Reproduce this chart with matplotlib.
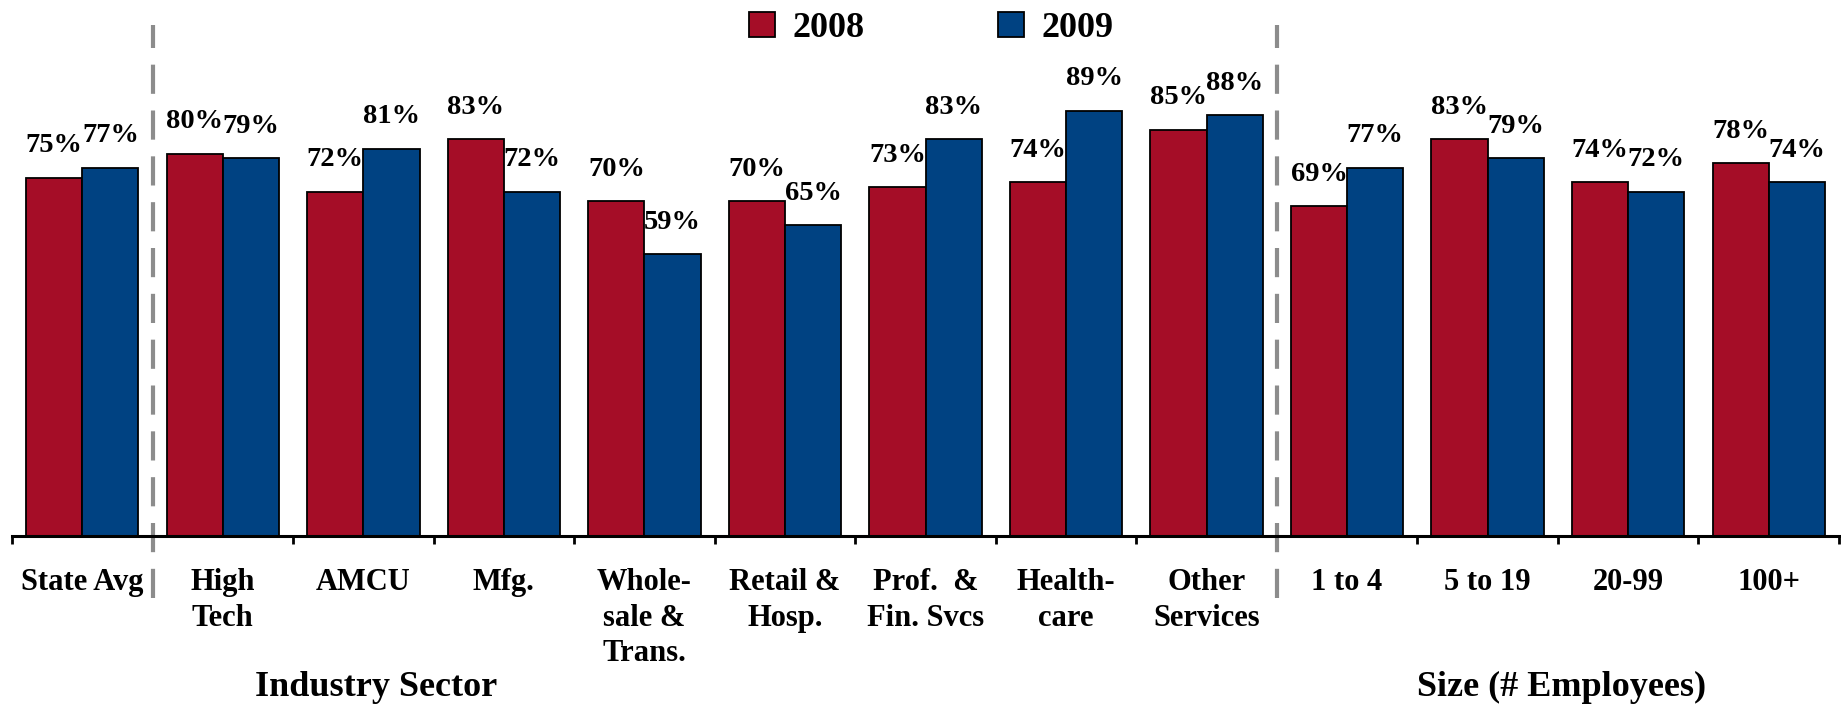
import numpy as np
import matplotlib
matplotlib.use("Agg")
import matplotlib.pyplot as plt

plt.rcParams['font.family'] = ['Liberation Serif', 'DejaVu Serif']
plt.rcParams['font.weight'] = 'bold'

# Data

categories = ['State Avg', 'High\nTech', 'AMCU', 'Mfg.', 'Whole-\nsale &\nTrans.',
              'Retail &\nHosp.', 'Prof.  &\nFin. Svcs', 'Health-\ncare', 'Other\nServices',
              '1 to 4', '5 to 19', '20-99', '100+']
vals_2008 = [75, 80, 72, 83, 70, 70, 73, 74, 85, 69, 83, 74, 78]
vals_2009 = [77, 79, 81, 72, 59, 65, 83, 89, 88, 77, 79, 72, 74]
series_names = ['2008', '2009']
group_titles = ['Industry Sector', 'Size (# Employees)']
divider_pos = [0.5, 8.5]

red = '#a50d27'
blue = '#004282'

fig = plt.figure(figsize=(18.41, 7.07), dpi=100)
ax = fig.add_axes([12 / 1841, 1 - 536 / 707, 1827 / 1841, 478 / 707])

x = np.arange(len(categories))
w = 0.4
b1 = ax.bar(x - w / 2, vals_2008, w, color=red, edgecolor='black', linewidth=1.3, label=series_names[0])
b2 = ax.bar(x + w / 2, vals_2009, w, color=blue, edgecolor='black', linewidth=1.3, label=series_names[1])

# value labels
for bars, vals in [(b1, vals_2008), (b2, vals_2009)]:
    for bar, v in zip(bars, vals):
        ax.annotate(f'{v}%', (bar.get_x() + bar.get_width() / 2, v),
                    xytext=(0, 14), textcoords='offset points',
                    ha='center', va='bottom', fontsize=20.5, fontweight='bold')

ax.set_xlim(-0.5, len(categories) - 0.5)
ax.set_ylim(0, 100)

for s in ['left', 'right', 'top']:
    ax.spines[s].set_visible(False)
ax.spines['bottom'].set_linewidth(2.2)
ax.set_yticks([])

ax.set_xticks(x)
ax.set_xticklabels(categories, fontsize=22, fontweight='bold', linespacing=1.3)
ax.tick_params(axis='x', which='major', length=0, pad=23)
ax.set_xticks(np.arange(-0.5, len(categories)), minor=True)
ax.tick_params(axis='x', which='minor', length=6, width=2, direction='out')

# dashed dividers
for xp in divider_pos:
    ax.axvline(xp, ymin=-0.13, ymax=1.07, color='#8c8c8c', linewidth=3,
               linestyle=(0, (7, 4)), clip_on=False)

fig.text(376 / 1841, 1 - 687 / 707, group_titles[0], ha='center', va='center',
         fontsize=26, fontweight='bold')
fig.text(1562 / 1841, 1 - 687 / 707, group_titles[1], ha='center', va='center',
         fontsize=26, fontweight='bold')

fig.legend(loc='center', bbox_to_anchor=(0.506, 0.96), ncol=2, frameon=False,
           handlelength=0.7, handleheight=0.7, handletextpad=0.5,
           columnspacing=3.7, prop={'weight': 'bold', 'size': 26})

fig.savefig('out.png', dpi=100)
